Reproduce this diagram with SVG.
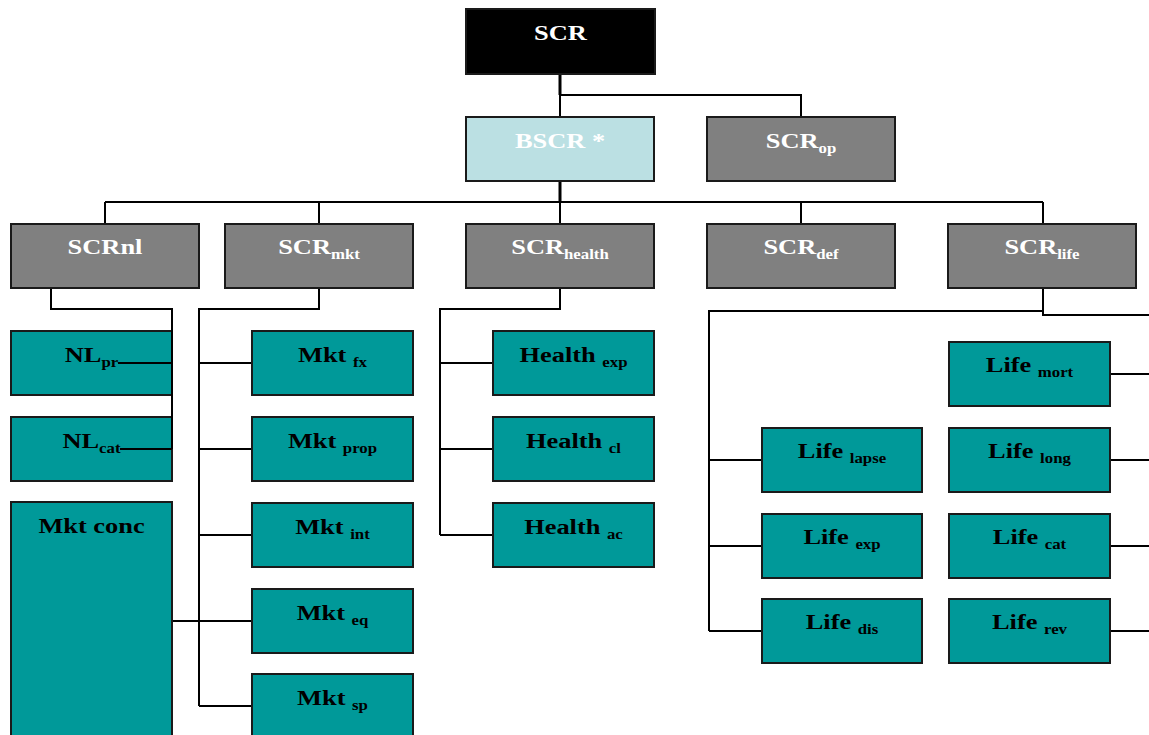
<svg xmlns="http://www.w3.org/2000/svg" width="1149" height="735" viewBox="0 0 1149 735">
<style>
.box{stroke:#1a1a1a;stroke-width:2}
.blk{fill:#000}
.gry{fill:#808080}
.lt{fill:#bbe0e3}
.tl{fill:#009999}
text{font-family:"Liberation Serif","Times New Roman",serif;font-weight:bold;font-size:22px;text-anchor:middle}
.w{fill:#fff}
.k{fill:#000}
.s{font-size:14px}
#connectors path{fill:none;stroke:#000;stroke-width:2}
#connectors .th{stroke-width:3}
</style>
<rect width="1149" height="735" fill="#fff"/>
<g id="n-scr"><rect class="box blk" x="466" y="9" width="189" height="65"/><text class="w" transform="translate(560.5,40) scale(1.2,1)">SCR</text></g>
<g id="n-bscr"><rect class="box lt" x="466" y="117" width="188" height="64"/><text class="w" transform="translate(560,148) scale(1.2,1)">BSCR *</text></g>
<g id="n-scrop"><rect class="box gry" x="707" y="117" width="188" height="64"/><text class="w" transform="translate(801,148) scale(1.2,1)">SCR<tspan class="s" dy="5">op</tspan></text></g>
<g id="n-scrnl"><rect class="box gry" x="11" y="224" width="188" height="64"/><text class="w" transform="translate(105,254) scale(1.2,1)">SCRnl</text></g>
<g id="n-scrmkt"><rect class="box gry" x="225" y="224" width="188" height="64"/><text class="w" transform="translate(319,254) scale(1.2,1)">SCR<tspan class="s" dy="5">mkt</tspan></text></g>
<g id="n-scrhealth"><rect class="box gry" x="466" y="224" width="188" height="64"/><text class="w" transform="translate(560,254) scale(1.2,1)">SCR<tspan class="s" dy="5">health</tspan></text></g>
<g id="n-scrdef"><rect class="box gry" x="707" y="224" width="188" height="64"/><text class="w" transform="translate(801,254) scale(1.2,1)">SCR<tspan class="s" dy="5">def</tspan></text></g>
<g id="n-scrlife"><rect class="box gry" x="948" y="224" width="188" height="64"/><text class="w" transform="translate(1042,254) scale(1.2,1)">SCR<tspan class="s" dy="5">life</tspan></text></g>
<g id="n-nlpr"><rect class="box tl" x="11" y="331" width="161" height="64"/><text class="k" transform="translate(91.5,362) scale(1.2,1)">NL<tspan class="s" dy="5">pr</tspan></text></g>
<g id="n-nlcat"><rect class="box tl" x="11" y="417" width="161" height="64"/><text class="k" transform="translate(91.5,448) scale(1.2,1)">NL<tspan class="s" dy="5">cat</tspan></text></g>
<g id="n-mktconc"><rect class="box tl" x="11" y="502" width="161" height="240"/><text class="k" transform="translate(91.5,533) scale(1.2,1)">Mkt conc</text></g>
<g id="n-mktfx"><rect class="box tl" x="252" y="331" width="161" height="64"/><text class="k" transform="translate(332.5,362) scale(1.2,1)">Mkt <tspan class="s" dy="5">fx</tspan></text></g>
<g id="n-mktprop"><rect class="box tl" x="252" y="417" width="161" height="64"/><text class="k" transform="translate(332.5,448) scale(1.2,1)">Mkt <tspan class="s" dy="5">prop</tspan></text></g>
<g id="n-mktint"><rect class="box tl" x="252" y="503" width="161" height="64"/><text class="k" transform="translate(332.5,534) scale(1.2,1)">Mkt <tspan class="s" dy="5">int</tspan></text></g>
<g id="n-mkteq"><rect class="box tl" x="252" y="589" width="161" height="64"/><text class="k" transform="translate(332.5,620) scale(1.2,1)">Mkt <tspan class="s" dy="5">eq</tspan></text></g>
<g id="n-mktsp"><rect class="box tl" x="252" y="674" width="161" height="70"/><text class="k" transform="translate(332.5,705) scale(1.2,1)">Mkt <tspan class="s" dy="5">sp</tspan></text></g>
<g id="n-hexp"><rect class="box tl" x="493" y="331" width="161" height="64"/><text class="k" transform="translate(573.5,362) scale(1.2,1)">Health <tspan class="s" dy="5">exp</tspan></text></g>
<g id="n-hcl"><rect class="box tl" x="493" y="417" width="161" height="64"/><text class="k" transform="translate(573.5,448) scale(1.2,1)">Health <tspan class="s" dy="5">cl</tspan></text></g>
<g id="n-hac"><rect class="box tl" x="493" y="503" width="161" height="64"/><text class="k" transform="translate(573.5,534) scale(1.2,1)">Health <tspan class="s" dy="5">ac</tspan></text></g>
<g id="n-lapse"><rect class="box tl" x="762" y="428" width="160" height="64"/><text class="k" transform="translate(842,458) scale(1.2,1)">Life <tspan class="s" dy="5">lapse</tspan></text></g>
<g id="n-lexp"><rect class="box tl" x="762" y="514" width="160" height="64"/><text class="k" transform="translate(842,544) scale(1.2,1)">Life <tspan class="s" dy="5">exp</tspan></text></g>
<g id="n-ldis"><rect class="box tl" x="762" y="599" width="160" height="64"/><text class="k" transform="translate(842,629) scale(1.2,1)">Life <tspan class="s" dy="5">dis</tspan></text></g>
<g id="n-lmort"><rect class="box tl" x="949" y="342" width="161" height="64"/><text class="k" transform="translate(1029.5,372) scale(1.2,1)">Life <tspan class="s" dy="5">mort</tspan></text></g>
<g id="n-llong"><rect class="box tl" x="949" y="428" width="161" height="64"/><text class="k" transform="translate(1029.5,458) scale(1.2,1)">Life <tspan class="s" dy="5">long</tspan></text></g>
<g id="n-lcat"><rect class="box tl" x="949" y="514" width="161" height="64"/><text class="k" transform="translate(1029.5,544) scale(1.2,1)">Life <tspan class="s" dy="5">cat</tspan></text></g>
<g id="n-lrev"><rect class="box tl" x="949" y="599" width="161" height="64"/><text class="k" transform="translate(1029.5,629) scale(1.2,1)">Life <tspan class="s" dy="5">rev</tspan></text></g>
<g id="connectors">
<path class="th" d="M560,75V95"/>
<path d="M560,95V116M560,95H801V116"/>
<path class="th" d="M560,182V202"/>
<path d="M105,202H1043M105,202V223M319,202V223M560,202V223M801,202V223M1043,202V223"/>
<path d="M51,289V309H172V449M118,363H172M120,449H172"/>
<path d="M319,289V309H199V706M199,363H251M199,449H251M199,535H251M199,706H251M173,621H251"/>
<path d="M560,289V309H440V535M440,363H492M440,449H492M440,535H492"/>
<path d="M1043,289V315H1149M1043,311H709V631M709,460H761M709,546H761M709,631H761"/>
<path d="M1111,374H1149M1111,460H1149M1111,546H1149M1111,631H1149"/>
</g>
</svg>
